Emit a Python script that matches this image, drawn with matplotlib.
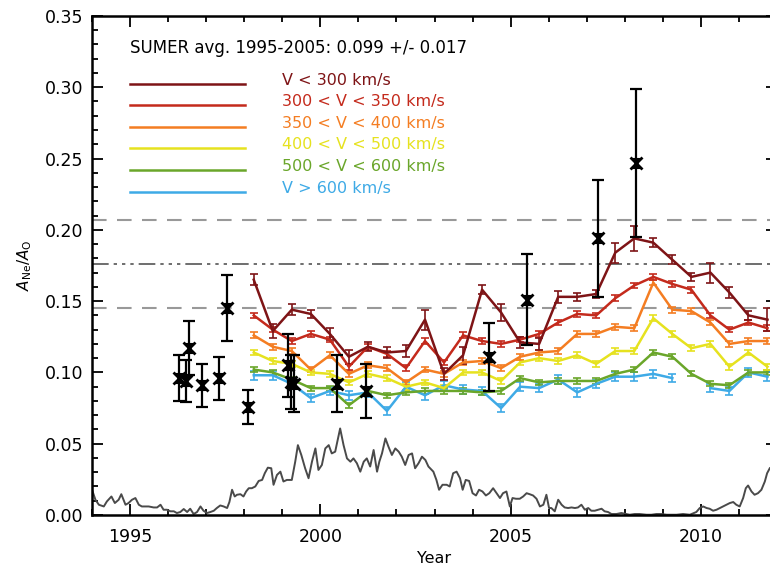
import numpy as np
import matplotlib
matplotlib.use('Agg')
import matplotlib.pyplot as plt
from matplotlib.ticker import MultipleLocator

plt.rcParams['font.family'] = ['DejaVu Sans']

# ---- solar wind speed bins, half-year averages (A_Ne/A_O) ----
wind_years = 1998.25 + 0.5 * np.arange(28)

v_lt300 = [0.165, 0.129, 0.144, 0.141, 0.127, 0.111, 0.118, 0.114, 0.115, 0.137,
           0.099, 0.112, 0.158, 0.142, 0.121, 0.120, 0.153, 0.153, 0.155, 0.184,
           0.194, 0.191, 0.179, 0.167, 0.170, 0.156, 0.140, 0.137]
v_lt300_err = [0.004, 0.005, 0.004, 0.003, 0.004, 0.005, 0.003, 0.004, 0.004, 0.007,
               0.004, 0.006, 0.003, 0.006, 0.004, 0.004, 0.004, 0.003, 0.003, 0.007,
               0.009, 0.003, 0.003, 0.003, 0.007, 0.004, 0.003, 0.008]
v_300_350 = [0.140, 0.130, 0.122, 0.127, 0.123, 0.104, 0.118, 0.113, 0.103, 0.122,
             0.107, 0.126, 0.122, 0.120, 0.123, 0.127, 0.135, 0.141, 0.140, 0.152,
             0.161, 0.167, 0.162, 0.158, 0.140, 0.130, 0.135, 0.131]
v_350_400 = [0.126, 0.118, 0.115, 0.102, 0.112, 0.099, 0.105, 0.103, 0.093, 0.102,
             0.099, 0.107, 0.108, 0.103, 0.111, 0.114, 0.115, 0.127, 0.127, 0.132,
             0.131, 0.163, 0.144, 0.143, 0.135, 0.120, 0.122, 0.122]
v_400_500 = [0.114, 0.108, 0.106, 0.100, 0.099, 0.093, 0.099, 0.096, 0.090, 0.093,
             0.089, 0.100, 0.100, 0.094, 0.107, 0.110, 0.108, 0.112, 0.106, 0.115,
             0.115, 0.138, 0.127, 0.117, 0.120, 0.104, 0.114, 0.104]
v_500_600 = [0.102, 0.100, 0.095, 0.089, 0.089, 0.077, 0.087, 0.084, 0.086, 0.087,
             0.087, 0.087, 0.086, 0.087, 0.096, 0.093, 0.094, 0.094, 0.094, 0.099,
             0.102, 0.114, 0.111, 0.099, 0.092, 0.091, 0.100, 0.100]
v_gt600 = [0.098, 0.098, 0.092, 0.082, 0.087, 0.084, 0.086, 0.073, 0.090, 0.084,
           0.091, 0.088, 0.087, 0.075, 0.090, 0.089, 0.095, 0.086, 0.092, 0.097,
           0.097, 0.099, 0.096, np.nan, 0.089, 0.087, 0.100, 0.097]

series_labels = ['V < 300 km/s', '300 < V < 350 km/s', '350 < V < 400 km/s',
                 '400 < V < 500 km/s', '500 < V < 600 km/s', 'V > 600 km/s']
series_colors = ['#7e1416', '#c42a1c', '#f47d22', '#e6e21f', '#6aa62a', '#3eaae6']
series_errs = [v_lt300_err, 0.002, 0.002, 0.002, 0.0018, 0.003]

# ---- SUMER measurements ----
sumer_years = [1996.29, 1996.47, 1996.56, 1996.89, 1997.33, 1997.56, 1998.10, 1999.16,
               1999.22, 1999.31, 2000.45, 2001.21, 2004.43, 2005.42, 2007.30, 2008.29]
sumer_vals = [0.096, 0.094, 0.117, 0.091, 0.096, 0.145, 0.076, 0.105,
              0.093, 0.092, 0.092, 0.087, 0.111, 0.151, 0.194, 0.247]
sumer_errs = [0.016, 0.015, 0.019, 0.015, 0.015, 0.023, 0.012, 0.022,
              0.019, 0.020, 0.020, 0.019, 0.024, 0.032, 0.041, 0.052]

mean_level = 0.176
mean_spread = 0.031

# ---- scaled sunspot number ----
ssn_years = [1994.00, 1994.09, 1994.18, 1994.31, 1994.39, 1994.51, 1994.60, 1994.70, 1994.77, 1994.88,
             1994.96, 1995.05, 1995.14, 1995.23, 1995.31, 1995.40, 1995.49, 1995.62, 1995.71, 1995.80,
             1995.88, 1995.97, 1996.06, 1996.15, 1996.23, 1996.32, 1996.41, 1996.50, 1996.58, 1996.67,
             1996.76, 1996.85, 1996.93, 1997.02, 1997.11, 1997.20, 1997.28, 1997.37, 1997.46, 1997.55,
             1997.61, 1997.68, 1997.75, 1997.81, 1997.90, 1997.98, 1998.05, 1998.12, 1998.20, 1998.29,
             1998.38, 1998.47, 1998.54, 1998.62, 1998.71, 1998.77, 1998.86, 1998.95, 1999.03, 1999.12,
             1999.25, 1999.34, 1999.41, 1999.50, 1999.60, 1999.69, 1999.78, 1999.87, 1999.95, 2000.04,
             2000.13, 2000.22, 2000.30, 2000.39, 2000.52, 2000.61, 2000.70, 2000.79, 2000.87, 2000.96,
             2001.05, 2001.14, 2001.22, 2001.31, 2001.40, 2001.49, 2001.55, 2001.62, 2001.71, 2001.79,
             2001.88, 2001.97, 2002.06, 2002.14, 2002.23, 2002.32, 2002.41, 2002.49, 2002.58, 2002.67,
             2002.76, 2002.84, 2002.97, 2003.05, 2003.12, 2003.21, 2003.32, 2003.40, 2003.49, 2003.58,
             2003.67, 2003.74, 2003.82, 2003.91, 2004.00, 2004.09, 2004.17, 2004.26, 2004.35, 2004.44,
             2004.54, 2004.63, 2004.72, 2004.80, 2004.89, 2004.98, 2005.05, 2005.14, 2005.24, 2005.33,
             2005.42, 2005.50, 2005.59, 2005.68, 2005.77, 2005.86, 2005.94, 2006.01, 2006.07, 2006.16,
             2006.25, 2006.34, 2006.42, 2006.51, 2006.60, 2006.69, 2006.77, 2006.86, 2006.95, 2007.04,
             2007.12, 2007.21, 2007.30, 2007.39, 2007.47, 2007.56, 2007.65, 2007.78, 2007.91, 2008.04,
             2008.13, 2008.26, 2008.39, 2008.57, 2008.70, 2008.83, 2008.96, 2009.10, 2009.23, 2009.36,
             2009.53, 2009.71, 2009.88, 2009.97, 2010.06, 2010.15, 2010.23, 2010.32, 2010.41, 2010.50,
             2010.58, 2010.67, 2010.76, 2010.85, 2010.93, 2011.02, 2011.11, 2011.18, 2011.24, 2011.33,
             2011.41, 2011.50, 2011.59, 2011.68, 2011.74, 2011.81]
ssn_vals = [0.0177, 0.0107, 0.0072, 0.0060, 0.0095, 0.0130, 0.0084, 0.0107, 0.0146, 0.0072,
            0.0084, 0.0107, 0.0119, 0.0072, 0.0060, 0.0060, 0.0060, 0.0053, 0.0053, 0.0072,
            0.0037, 0.0037, 0.0026, 0.0026, 0.0014, 0.0021, 0.0042, 0.0021, 0.0044, 0.0007,
            0.0021, 0.0060, 0.0030, 0.0014, 0.0021, 0.0030, 0.0049, 0.0067, 0.0060, 0.0049,
            0.0091, 0.0177, 0.0130, 0.0142, 0.0146, 0.0130, 0.0165, 0.0188, 0.0188, 0.0200,
            0.0239, 0.0246, 0.0293, 0.0332, 0.0328, 0.0212, 0.0281, 0.0304, 0.0235, 0.0246,
            0.0246, 0.0374, 0.0490, 0.0421, 0.0328, 0.0258, 0.0374, 0.0467, 0.0316, 0.0351,
            0.0467, 0.0490, 0.0432, 0.0444, 0.0607, 0.0490, 0.0397, 0.0374, 0.0397, 0.0363,
            0.0304, 0.0374, 0.0397, 0.0340, 0.0456, 0.0304, 0.0374, 0.0432, 0.0537, 0.0479,
            0.0421, 0.0467, 0.0444, 0.0409, 0.0351, 0.0421, 0.0432, 0.0328, 0.0363, 0.0409,
            0.0386, 0.0340, 0.0304, 0.0246, 0.0177, 0.0212, 0.0212, 0.0200, 0.0293, 0.0304,
            0.0258, 0.0177, 0.0246, 0.0239, 0.0153, 0.0137, 0.0177, 0.0165, 0.0137, 0.0153,
            0.0188, 0.0153, 0.0119, 0.0153, 0.0165, 0.0060, 0.0119, 0.0114, 0.0114, 0.0130,
            0.0153, 0.0146, 0.0137, 0.0114, 0.0060, 0.0072, 0.0142, 0.0049, 0.0049, 0.0026,
            0.0107, 0.0072, 0.0053, 0.0049, 0.0053, 0.0049, 0.0053, 0.0072, 0.0037, 0.0049,
            0.0030, 0.0030, 0.0037, 0.0044, 0.0026, 0.0021, 0.0007, 0.0007, 0.0014, 0.0007,
            0.0002, 0.0007, 0.0007, 0.0002, 0.0002, 0.0007, 0.0007, 0.0002, 0.0002, 0.0002,
            0.0007, 0.0002, 0.0021, 0.0049, 0.0060, 0.0049, 0.0044, 0.0030, 0.0037, 0.0049,
            0.0060, 0.0072, 0.0084, 0.0091, 0.0072, 0.0060, 0.0119, 0.0188, 0.0207, 0.0165,
            0.0142, 0.0153, 0.0177, 0.0235, 0.0293, 0.0328]

fig = plt.figure(figsize=(7.7, 5.73), dpi=100)
ax = fig.add_axes([0.1195, 0.1012, 0.8896, 0.871])

# reference levels
ax.axhline(mean_level, color='#555555', lw=1.2, dashes=(10, 3, 2, 3, 2, 3, 2, 3), zorder=1)
ax.axhline(mean_level + mean_spread, color='#999999', lw=1.5, dashes=(7, 5), zorder=1)
ax.axhline(mean_level - mean_spread, color='#999999', lw=1.5, dashes=(7, 5), zorder=1)

ax.plot(ssn_years, ssn_vals, color='#4a4a4a', lw=1.4, zorder=2)

all_series = [v_lt300, v_300_350, v_350_400, v_400_500, v_500_600, v_gt600]
for vals, col, err in zip(all_series[::-1], series_colors[::-1], series_errs[::-1]):
    ax.errorbar(wind_years, vals, yerr=err, color=col, lw=1.8, elinewidth=1.2,
                capsize=3, capthick=1.2, zorder=3)

# bow-tie symbol like the IDL plot
bowtie = [(-1, 1), (1, 1), (-1, -1), (1, -1), (-1, 1)]
ax.errorbar(sumer_years, sumer_vals, yerr=sumer_errs, fmt='none', ecolor='black',
            elinewidth=1.6, capsize=4, capthick=1.6, zorder=5)
ax.plot(sumer_years, sumer_vals, ls='none', marker=bowtie, ms=8, color='black',
        mew=0, zorder=6)
ax.plot(sumer_years, sumer_vals, ls='none', marker='x', ms=8, color='black',
        mew=2, zorder=6)

# hand-drawn key
for i, (lab, col) in enumerate(zip(series_labels, series_colors)):
    y = 0.8637 - i * 0.0431
    ax.plot([0.0555, 0.2234], [y, y], color=col, lw=1.8, transform=ax.transAxes)
    ax.text(0.2774, y + 0.007, lab, color=col, fontsize=11.5, va='center', transform=ax.transAxes)
ax.text(0.0555, 0.936, 'SUMER avg. 1995-2005: 0.099 +/- 0.017', fontsize=12,
        va='center', transform=ax.transAxes)

ax.set_xlim(1994, 2012)
ax.set_ylim(0, 0.35)
ax.xaxis.set_major_locator(MultipleLocator(5))
ax.xaxis.set_minor_locator(MultipleLocator(1))
ax.yaxis.set_major_locator(MultipleLocator(0.05))
ax.yaxis.set_minor_locator(MultipleLocator(0.01))
ax.yaxis.set_major_formatter(plt.FormatStrFormatter('%.2f'))
ax.tick_params(which='both', direction='in', top=True, right=True, width=1.3, labelsize=12.5)
ax.tick_params(which='major', length=8)
ax.tick_params(which='minor', length=4)
ax.tick_params(axis='x', pad=9)
ax.tick_params(axis='y', pad=6)
for sp in ax.spines.values():
    sp.set_linewidth(1.8)

ax.set_xlabel('Year', fontsize=11.5, labelpad=4)
ax.set_ylabel(r'$A_{\rm Ne}/A_{\rm O}$', fontsize=11, labelpad=8)

fig.savefig('out.png', dpi=100)
